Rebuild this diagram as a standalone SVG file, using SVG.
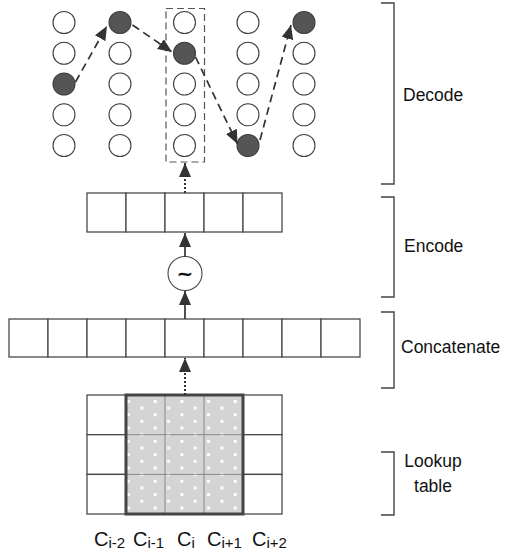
<svg xmlns="http://www.w3.org/2000/svg" width="505" height="560" viewBox="0 0 505 560">
<style>
.cell{fill:#fff;stroke:#4a4a4a;stroke-width:1.3}
.nd{fill:#fff;stroke:#3f3f3f;stroke-width:1.1}
.on{fill:#555;stroke:#3f3f3f;stroke-width:1.1}
.dash{fill:none;stroke:#333;stroke-width:1.7;stroke-dasharray:8,5}
.dot{fill:none;stroke:#333;stroke-width:2;stroke-dasharray:2,2}
.solid{fill:none;stroke:#333;stroke-width:1.7}
.br{fill:none;stroke:#444;stroke-width:1.4}
.lbl{font-family:"Liberation Sans",Arial,sans-serif;font-size:17.5px;fill:#111}
.cl{font-family:"Liberation Sans",Arial,sans-serif;font-size:20px;fill:#111}
.sub{font-size:15px}
.grid{fill:none;stroke:#888;stroke-width:1}
</style>
<defs>
<marker id="ah" markerUnits="userSpaceOnUse" markerWidth="15" markerHeight="13" refX="14" refY="6" orient="auto">
<path d="M0,0 L14,6 L0,12 z" fill="#333"/>
</marker>
<pattern id="dots" patternUnits="userSpaceOnUse" x="127" y="400" width="26.7" height="13.3">
<rect width="26.7" height="13.3" fill="#d4d4d4"/>
<rect x="0" y="0" width="3" height="3" fill="#fff"/>
<rect x="13.3" y="6.6" width="3" height="3" fill="#fff"/>
</pattern>
</defs>

<g id="decode-layer">
<rect x="166" y="8.5" width="38.5" height="153.5" fill="none" stroke="#555" stroke-width="1.2" stroke-dasharray="7,4"/>
<g id="col1">
<circle class="nd" cx="64" cy="22.5" r="11"/><circle class="nd" cx="64" cy="53.25" r="11"/><circle class="on" cx="64" cy="84" r="11"/><circle class="nd" cx="64" cy="114.75" r="11"/><circle class="nd" cx="64" cy="145.5" r="11"/>
</g>
<g id="col2">
<circle class="on" cx="120" cy="22.5" r="11"/><circle class="nd" cx="120" cy="53.25" r="11"/><circle class="nd" cx="120" cy="84" r="11"/><circle class="nd" cx="120" cy="114.75" r="11"/><circle class="nd" cx="120" cy="145.5" r="11"/>
</g>
<g id="col3">
<circle class="nd" cx="184.5" cy="22.5" r="11"/><circle class="on" cx="184.5" cy="53.25" r="11"/><circle class="nd" cx="184.5" cy="84" r="11"/><circle class="nd" cx="184.5" cy="114.75" r="11"/><circle class="nd" cx="184.5" cy="145.5" r="11"/>
</g>
<g id="col4">
<circle class="nd" cx="248" cy="22.5" r="11"/><circle class="nd" cx="248" cy="53.25" r="11"/><circle class="nd" cx="248" cy="84" r="11"/><circle class="nd" cx="248" cy="114.75" r="11"/><circle class="on" cx="248" cy="145.5" r="11"/>
</g>
<g id="col5">
<circle class="on" cx="304" cy="22.5" r="11"/><circle class="nd" cx="304" cy="53.25" r="11"/><circle class="nd" cx="304" cy="84" r="11"/><circle class="nd" cx="304" cy="114.75" r="11"/><circle class="nd" cx="304" cy="145.5" r="11"/>
</g>
</g>

<g id="encode-layer">
<rect class="cell" x="87" y="193" width="39" height="39"/>
<rect class="cell" x="126" y="193" width="39" height="39"/>
<rect class="cell" x="165" y="193" width="39" height="39"/>
<rect class="cell" x="204" y="193" width="39" height="39"/>
<rect class="cell" x="243" y="193" width="39" height="39"/>
</g>

<g id="tanh">
<circle cx="185" cy="273.5" r="17" fill="#fff" stroke="#444" stroke-width="1.1"/>
<text x="185" y="280" text-anchor="middle" font-family="'DejaVu Sans',sans-serif" font-size="20" font-weight="bold" fill="#111">~</text>
</g>

<g id="concat-layer">
<rect class="cell" x="9" y="319" width="39" height="38"/>
<rect class="cell" x="48" y="319" width="39" height="38"/>
<rect class="cell" x="87" y="319" width="39" height="38"/>
<rect class="cell" x="126" y="319" width="39" height="38"/>
<rect class="cell" x="165" y="319" width="39" height="38"/>
<rect class="cell" x="204" y="319" width="39" height="38"/>
<rect class="cell" x="243" y="319" width="39" height="38"/>
<rect class="cell" x="282" y="319" width="39" height="38"/>
<rect class="cell" x="321" y="319" width="39" height="38"/>
</g>

<g id="lookup-table">
<rect class="cell" x="87" y="395" width="39" height="39.7"/>
<rect class="cell" x="87" y="434.7" width="39" height="39.7"/>
<rect class="cell" x="87" y="474.4" width="39" height="39.6"/>
<rect class="cell" x="243" y="395" width="39" height="39.7"/>
<rect class="cell" x="243" y="434.7" width="39" height="39.7"/>
<rect class="cell" x="243" y="474.4" width="39" height="39.6"/>
<rect x="126" y="395" width="117" height="119" fill="url(#dots)"/>
<path class="grid" d="M165,395 V514 M204,395 V514 M126,434.7 H243 M126,474.4 H243"/>
<rect x="126" y="395" width="117" height="119" fill="none" stroke="#444" stroke-width="3"/>
</g>

<g id="connectors">
<path class="dash" d="M75.5,82 L107,26" marker-end="url(#ah)"/>
<path class="dash" d="M132.5,25 L172,52" marker-end="url(#ah)"/>
<path class="dash" d="M195.5,57 L237.5,144" marker-end="url(#ah)"/>
<path class="dash" d="M260,140 L291,25" marker-end="url(#ah)"/>
<path class="dot" d="M185,193 V163" marker-end="url(#ah)"/>
<path class="solid" d="M185,256.5 V233" marker-end="url(#ah)"/>
<path class="solid" d="M185,319 V291" marker-end="url(#ah)"/>
<path class="dot" d="M185,395 V358" marker-end="url(#ah)"/>
</g>

<g id="brackets">
<path class="br" d="M381,3 H394 V184 H381"/>
<path class="br" d="M381,197 H394 V297 H381"/>
<path class="br" d="M381,312 H394 V388 H381"/>
<path class="br" d="M381,452 H394 V515 H381"/>
</g>

<g id="labels">
<text class="lbl" x="403" y="101">Decode</text>
<text class="lbl" x="404" y="252">Encode</text>
<text class="lbl" x="401" y="353">Concatenate</text>
<text class="lbl" x="433" y="467" text-anchor="middle">Lookup</text>
<text class="lbl" x="433" y="492" text-anchor="middle">table</text>
<text class="cl" x="94" y="546">C<tspan class="sub" dy="2">i-2</tspan></text>
<text class="cl" x="133" y="546">C<tspan class="sub" dy="2">i-1</tspan></text>
<text class="cl" x="177" y="546">C<tspan class="sub" dy="2">i</tspan></text>
<text class="cl" x="207" y="546">C<tspan class="sub" dy="2">i+1</tspan></text>
<text class="cl" x="252" y="546">C<tspan class="sub" dy="2">i+2</tspan></text>
</g>
</svg>
